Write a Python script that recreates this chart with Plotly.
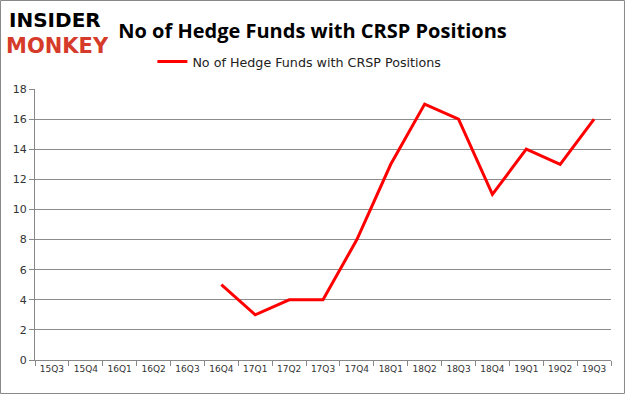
import plotly.graph_objects as go

quarters = ["15Q3", "15Q4", "16Q1", "16Q2", "16Q3", "16Q4", "17Q1", "17Q2", "17Q3",
            "17Q4", "18Q1", "18Q2", "18Q3", "18Q4", "19Q1", "19Q2", "19Q3"]
funds = [None, None, None, None, None, 5, 3, 4, 4, 8, 13, 17, 16, 11, 14, 13, 16]
series_name = "No of Hedge Funds with CRSP Positions"
y_ticks = [0, 2, 4, 6, 8, 10, 12, 14, 16, 18]

fig = go.Figure()
fig.add_trace(go.Scatter(
    x=quarters, y=funds, mode="lines", name=series_name,
    line=dict(color="#ff0000", width=3), connectgaps=False,
))

fig.update_layout(
    width=625, height=394,
    margin=dict(l=35, r=14, t=89, b=34, autoexpand=False),
    paper_bgcolor="white", plot_bgcolor="white",
    showlegend=True,
    legend=dict(orientation="h", x=0.459, xanchor="center", y=0.843, yanchor="middle",
                yref="container", font=dict(family="DejaVu Sans", size=12.7, color="#222"),
                itemwidth=30),
    title=dict(text="<b>No of Hedge Funds with CRSP Positions</b>",
               x=0.5, xanchor="center", y=0.922, yanchor="middle",
               font=dict(family="Open Sans", size=20, color="black")),
    xaxis=dict(type="category", categoryorder="array", categoryarray=quarters,
               showgrid=False, showline=True, linecolor="#888", linewidth=1,
               ticks="outside", tickson="boundaries", ticklen=5, tickcolor="#888",
               tickangle=0,
               tickfont=dict(family="DejaVu Sans", size=9, color="#333"),
               range=[-0.5, 16.5]),
    yaxis=dict(range=[0, 18], tickvals=y_ticks, showgrid=True, gridcolor="#8c8c8c",
               gridwidth=1, showline=True, linecolor="#888", linewidth=1,
               ticks="outside", ticklen=5, tickcolor="#888", zeroline=False,
               tickfont=dict(family="DejaVu Sans", size=11, color="#333")),
    shapes=[dict(type="rect", xref="paper", yref="paper", x0=-0.0599, x1=1.0234,
                 y0=-0.1236, y1=1.3266, line=dict(color="#888", width=1))],
    annotations=[
        dict(text="<b>INSIDER</b>", xref="paper", yref="paper", x=-0.049, y=1.305,
             xanchor="left", yanchor="top", showarrow=False,
             font=dict(family="DejaVu Sans", size=20, color="black")),
        dict(text="<b>MONKEY</b>", xref="paper", yref="paper", x=-0.053, y=1.21,
             xanchor="left", yanchor="top", showarrow=False,
             font=dict(family="DejaVu Sans", size=21, color="#d63a2a")),
    ],
)

fig.write_html("out.html", post_script="document.body.style.margin='0';",
               config={"displayModeBar": False})
